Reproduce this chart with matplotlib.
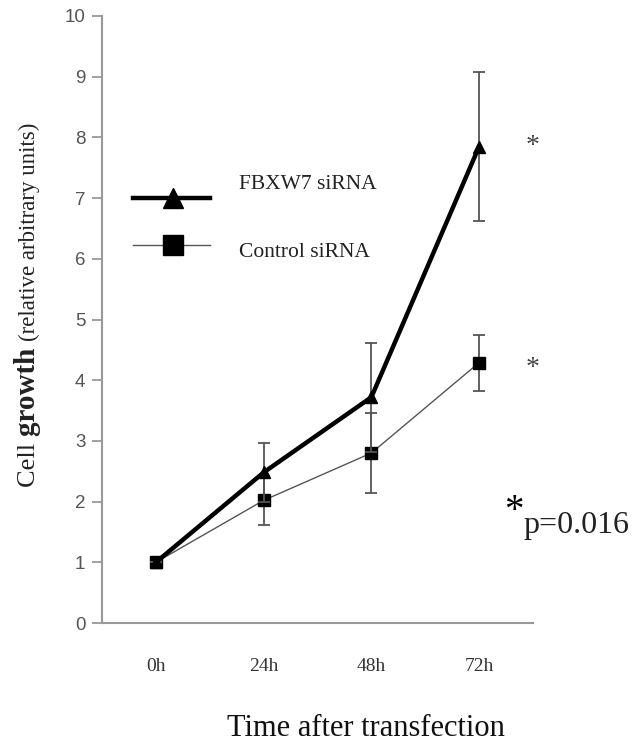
import matplotlib
matplotlib.use("Agg")
import matplotlib.pyplot as plt
import numpy as np

categories = ["0h", "24h", "48h", "72h"]
fbxw7 = [1.0, 2.48, 3.72, 7.85]
fbxw7_err = [0.0, 0.48, 0.9, 1.23]
control = [1.0, 2.02, 2.80, 4.29]
control_err = [0.0, 0.40, 0.66, 0.46]
yticks = list(range(0, 11))

serif = "Liberation Serif"
sans = "Liberation Sans"

fig = plt.figure(figsize=(6.4, 7.49), dpi=100)
ax = fig.add_axes([102/640, 1-623/749, (533-102)/640, (623-16)/749])

x = np.arange(len(categories)) + 0.5
ecol = "#555555"
ax.errorbar(x, control, yerr=control_err, color="#555555", lw=1.0, marker="s",
            ms=8, mfc="black", mec="black", ecolor=ecol, elinewidth=1.3,
            capsize=4, capthick=1.3, zorder=3)
ax.errorbar(x, fbxw7, yerr=fbxw7_err, color="black", lw=3.2, marker="^",
            ms=8, mfc="black", mec="black", ecolor=ecol, elinewidth=1.3,
            capsize=4, capthick=1.3, zorder=4)

ax.set_xlim(0, 4)
ax.set_ylim(0, 10)
ax.set_yticks(yticks)
ax.set_yticklabels([str(v) for v in yticks], fontfamily=sans, fontsize=13.5, color="#555555")
ax.set_xticks(x)
ax.set_xticklabels(categories, fontfamily=serif, fontsize=14, color="#333333")
ax.tick_params(axis="x", length=0, pad=25)
ax.tick_params(axis="y", length=7, width=1.3, color="#999999", pad=5)
for s in ["top", "right"]:
    ax.spines[s].set_visible(False)
for s in ["left", "bottom"]:
    ax.spines[s].set_color("#999999")
    ax.spines[s].set_linewidth(1.5)

# legend drawn manually in axes data coords
ax.plot([0.29, 1.0], [7.0, 7.0], color="black", lw=3.2, clip_on=False)
ax.plot([0.655], [7.0], marker="^", ms=15, color="black")
ax.plot([0.29, 1.0], [6.23, 6.23], color="#555555", lw=1.0, clip_on=False)
ax.plot([0.655], [6.23], marker="s", ms=14, color="black")
ax.text(1.27, 7.22, "FBXW7 siRNA", fontfamily=serif, fontsize=15.5, va="center", ha="left", color="#222222")
ax.text(1.27, 6.11, "Control siRNA", fontfamily=serif, fontsize=15.5, va="center", ha="left", color="#222222")

# significance markers
ax.text(4.0, 7.85, "*", fontfamily=serif, fontsize=20, ha="center", va="center", color="#444444")
ax.text(4.0, 4.2, "*", fontfamily=serif, fontsize=20, ha="center", va="center", color="#444444")
fig.text(504/640, 1-512/749, "*", fontfamily=serif, fontsize=28, ha="left", va="center", color="black")
fig.text(523/640, 1-533/749, "p=0.016", fontfamily=serif, fontsize=23, ha="left", va="baseline", color="#222222")

# y label in three parts
fig.canvas.draw()
renderer = fig.canvas.get_renderer()
t1 = fig.text(35/640, 1-487/749, "Cell ", fontfamily=serif, fontsize=19, rotation=90,
              rotation_mode="anchor", ha="left", va="baseline", color="#222222")
bb = t1.get_window_extent(renderer)
t2 = fig.text(35/640, bb.y1/fig.bbox.height, "growth ", fontfamily=serif, fontsize=21,
              fontweight="semibold", rotation=90, rotation_mode="anchor", ha="left",
              va="baseline", color="#222222")
bb2 = t2.get_window_extent(renderer)
fig.text(35/640, bb2.y1/fig.bbox.height, "(relative arbitrary units)", fontfamily=serif,
         fontsize=16.5, rotation=90, rotation_mode="anchor", ha="left", va="baseline",
         color="#222222")

fig.text(366/640, 1-729/749, "Time after transfection", fontfamily=serif, fontsize=22,
         ha="center", va="center", color="#111111")

fig.savefig("out.png", dpi=100)
